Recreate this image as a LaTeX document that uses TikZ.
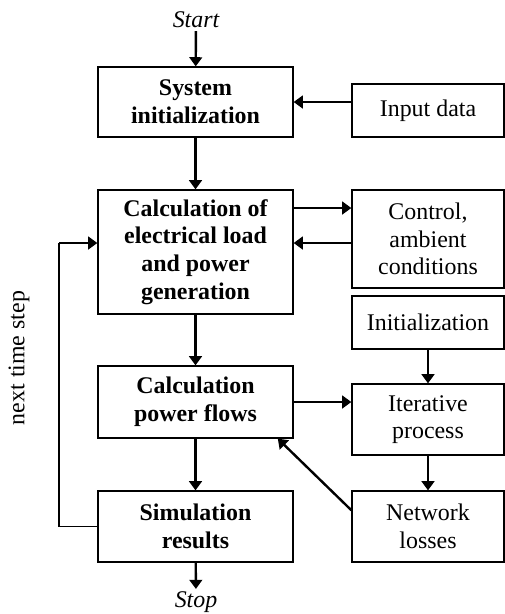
\documentclass[tikz,border=0pt]{standalone}
\usepackage{fontspec}
\setmainfont{Liberation Serif}
\usetikzlibrary{arrows.meta}
\newcommand{\boxsize}{\fontsize{17}{19.7}\selectfont}

\begin{document}
\begin{tikzpicture}[x=0.025cm, y=-0.025cm,
        block/.style={draw, line width=0.9pt, align=center, inner sep=0pt, minimum width=4.875cm, font=\boxsize\bfseries},
        side/.style={draw, line width=0.9pt, align=center, inner sep=0pt, minimum width=3.8cm, font=\boxsize},
        term/.style={inner sep=2pt, font=\boxsize\itshape},
        flow/.style={line width=1.7pt, -{Triangle[length=6.5pt,width=9pt]}}]
        \useasboundingbox (0,0) rectangle (505,614);
        % main column
        \node[block, minimum height=1.75cm] (init) at (195.5,102) {System\\initialization};
        \node[block, minimum height=3.1cm] (load) at (195.5,252) {Calculation of\\electrical load\\and power\\generation};
        \node[block, minimum height=1.8cm] (flows) at (195.5,402) {Calculation\\power flows};
        \node[block, minimum height=1.775cm] (res) at (195.5,526.5) {Simulation\\results};
        % right column
        \node[side, minimum height=1.325cm] (input) at (428,110.5) {Input data};
        \node[side, minimum height=2.45cm] (ctrl) at (428,239) {Control,\\ambient\\conditions};
        \node[side, minimum height=1.325cm] (ini) at (428,322.5) {Initialization};
        \node[side, minimum height=1.775cm] (iter) at (428,419.5) {Iterative\\process};
        \node[side, minimum height=1.775cm] (loss) at (428,526.5) {Network\\losses};
        % start, stop and loop label
        \node[term] (start) at (196,20) {Start};
        \node[term] (stop) at (196,602.5) {Stop};
        \node[rotate=90, font=\boxsize] (next) at (19,358) {next time step};
        \coordinate (back) at (59,243);
        % connectors
        \draw[flow] (start) -- (init);
        \draw[flow] (input.west |- init) -- (init.east);
        \draw[flow] (init) -- (load);
        \draw[flow] (load.east |- 0,208) -- (ctrl.west |- 0,208);
        \draw[flow] (ctrl.west |- back) -- (load.east |- back);
        \draw[flow] (load) -- (flows);
        \draw[flow] (flows.east) -- (flows.east -| iter.west);
        \draw[flow] (ini) -- (iter);
        \draw[flow] (iter) -- (loss);
        \draw[flow] (loss.168) -- (flows.-24);
        \draw[flow] (flows) -- (res);
        \draw[flow] (res) -- (stop);
        % next time step
        \draw[line width=0.9pt] (res.west) -| (back);
        \draw[flow] (back) -- (back -| load.west);
\end{tikzpicture}
\end{document}
